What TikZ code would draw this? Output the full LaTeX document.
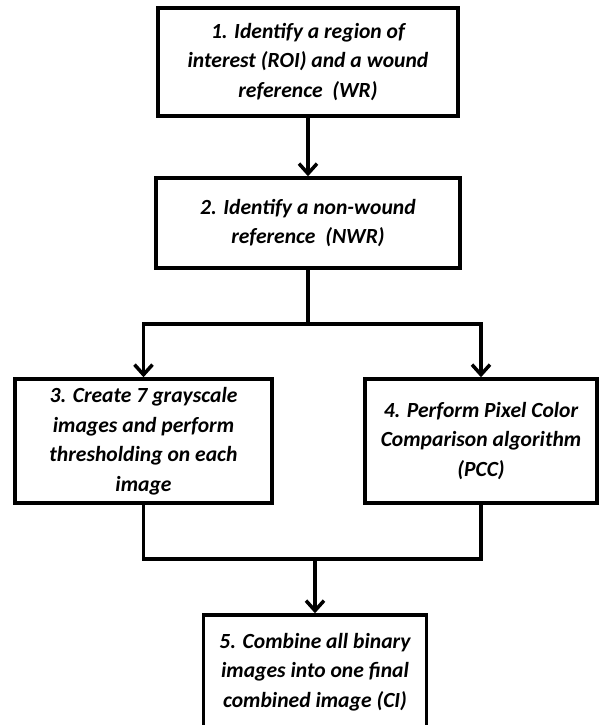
\documentclass[tikz,border=0pt]{standalone}
\usepackage{fontspec}
\setmainfont{Carlito}
\usepackage{tikz}
\usetikzlibrary{arrows.meta, positioning}

\begin{document}
\begin{tikzpicture}[x=0.5pt, y=-0.5pt,
    stepbox/.style={draw, line width=1.75pt, align=center, inner sep=0pt,
                    font=\bfseries\itshape\fontsize{10.8}{14.75}\selectfont},
    link/.style={line width=1.75pt},
    flow/.style={link, -{Straight Barb[length=5pt,width=9pt]}}]
\useasboundingbox (0,0) rectangle (599,725);
%
\node[stepbox, minimum width=150pt, minimum height=54pt] (roi) at (308,62)
     {1. Identify a region of\\ interest (ROI) and a wound\\ reference\ \ (WR)};
\node[stepbox, minimum width=152pt, minimum height=45pt] (nwr) at (308,223)
     {2. Identify a non-wound\\ reference\ \ (NWR)};
\node[stepbox, minimum width=128.5pt, minimum height=62pt] (gray) at (143.5,441)
     {3. Create 7 grayscale\\ images and perform\\ thresholding on each\\ image};
\node[stepbox, minimum width=116pt, minimum height=62pt] (pcc) at (481,441)
     {4. Perform Pixel Color\\ Comparison algorithm\\ (PCC)};
\node[stepbox, minimum width=111.5pt, minimum height=57pt] (ci) at (315,672)
     {5. Combine all binary\\ images into one final\\ combined image (CI)};
%
\coordinate (split) at (308,324);
\coordinate (merge) at (315,559);
%
\draw[flow] (roi.south) -- (nwr.north);
\draw[link] (nwr.south) -- (split);
\draw[flow] (split) -| (gray.north);
\draw[flow] (split) -| (pcc.north);
\draw[link] (gray.south) |- (merge) -| (pcc.south);
\draw[flow] (merge) -- (ci.north);
%
\end{tikzpicture}
\end{document}
